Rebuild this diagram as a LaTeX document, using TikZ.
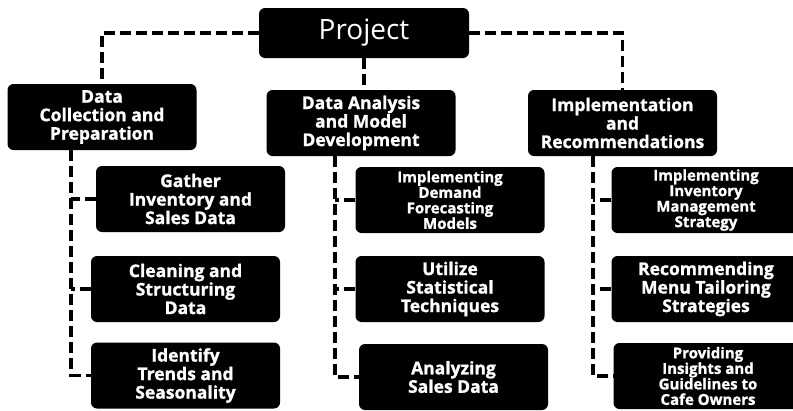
\documentclass[tikz,border=0pt]{standalone}
\usepackage{fontspec}
\setmainfont{Open Sans}[BoldFeatures={FakeBold=1.2}]
\begin{document}
\begin{tikzpicture}[x=1pt,y=-1pt,
        box/.style={fill=black,text=white,rounded corners=6pt,minimum width=189pt,minimum height=66pt,inner sep=0pt,align=center,font=\bfseries\fontsize{17.5}{18.5}\selectfont},
        smallbox/.style={box,font=\bfseries\fontsize{15}{15.5}\selectfont},
        link/.style={line width=3.5pt,dash pattern=on 11pt off 5pt}]
            \useasboundingbox (0,0) rectangle (793,410);
            \node[box,minimum width=210pt,minimum height=50pt,font=\fontsize{28}{32}\selectfont] (proj) at (364,33) {Project};
            \node[box] (dc) at (102,117) {Data\\Collection and\\Preparation};
            \node[box] (da) at (361,123) {Data Analysis\\and Model\\Development};
            \node[box] (im) at (622.5,123) {Implementation\\and\\Recommendations};
            \node[box] (gather) at (190.5,199) {Gather\\Inventory and\\Sales Data};
            \node[box] (clean) at (185.5,289) {Cleaning and\\Structuring\\Data};
            \node[box] (trends) at (185.5,375.5) {Identify\\Trends and\\Seasonality};
            \node[smallbox] (forecast) at (450,200) {Implementing\\Demand\\Forecasting\\Models};
            \node[box] (stats) at (450,289) {Utilize\\Statistical\\Techniques};
            \node[box] (sales) at (453.5,377) {Analyzing\\Sales Data};
            \node[smallbox] (stock) at (706,200) {Implementing\\Inventory\\Management\\Strategy};
            \node[box] (menu) at (706,289) {Recommending\\Menu Tailoring\\Strategies};
            \node[smallbox] (owners) at (708,376) {Providing\\Insights and\\Guidelines to\\Cafe Owners};
            \draw[link] (proj.west) -| (dc.north);
            \draw[link] (proj.south) -- (proj.south |- da.north);
            \draw[link] (proj.east) -| (im.north);
            \draw[link] ([xshift=-31pt]dc.south) coordinate (s1) |- (trends.west);
            \draw[link] (gather.west) -- (gather.west -| s1);
            \draw[link] (clean.west) -- (clean.west -| s1);
            \draw[link] ([xshift=-26pt]da.south) coordinate (s2) |- (sales.west);
            \draw[link] (forecast.west) -- (forecast.west -| s2);
            \draw[link] (stats.west) -- (stats.west -| s2);
            \draw[link] ([xshift=-29.5pt]im.south) coordinate (s3) |- (owners.west);
            \draw[link] (stock.west) -- (stock.west -| s3);
            \draw[link] (menu.west) -- (menu.west -| s3);
        \end{tikzpicture}
\end{document}
